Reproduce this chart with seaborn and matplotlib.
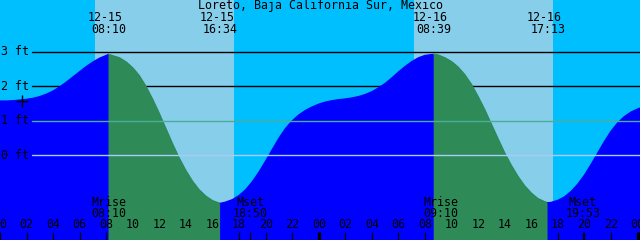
import matplotlib
matplotlib.use("Agg")
import matplotlib.pyplot as plt
from matplotlib.transforms import blended_transform_factory
import numpy as np
import pandas as pd
import seaborn as sns

# ---------------- data ----------------
title = "Loreto, Baja California Sur, Mexico"

hours = [0, 0.5, 1, 1.5, 2, 2.5, 3, 3.5, 4, 4.5, 5, 5.5, 6, 6.5, 7, 7.5, 8, 8.17,
         9, 9.5, 10, 10.5, 11, 11.5, 12, 12.5, 13, 13.5, 14, 14.5, 15, 15.5, 16, 16.57,
         17, 17.5, 18, 18.5, 19, 19.5, 20, 20.5, 21, 21.5, 22, 22.5, 23, 23.5,
         24, 24.5, 25, 25.5, 26, 26.5, 27, 27.5, 28, 28.5, 29, 29.5, 30, 30.5, 31, 31.5, 32, 32.65,
         33, 33.5, 34, 34.5, 35, 35.5, 36, 36.5, 37, 37.5, 38, 38.5, 39, 39.5, 40, 40.5, 41, 41.22,
         41.5, 42, 42.5, 43, 43.5, 44, 44.5, 45, 45.5, 46, 46.5, 47, 47.5, 48, 48.2]
heights = [1.57, 1.57, 1.58, 1.60, 1.62, 1.65, 1.70, 1.77, 1.86, 1.98, 2.12, 2.27, 2.42, 2.57, 2.70, 2.81, 2.89, 2.92,
           2.82, 2.70, 2.53, 2.30, 1.99, 1.62, 1.21, 0.77, 0.33, -0.08, -0.44, -0.75, -1.00, -1.18, -1.31, -1.39,
           -1.35, -1.28, -1.16, -0.99, -0.76, -0.48, -0.16, 0.17, 0.50, 0.78, 1.00, 1.17, 1.30, 1.40,
           1.48, 1.54, 1.58, 1.61, 1.63, 1.66, 1.70, 1.76, 1.84, 1.95, 2.08, 2.24, 2.41, 2.57, 2.71, 2.82, 2.89, 2.92,
           2.90, 2.82, 2.71, 2.55, 2.33, 2.05, 1.70, 1.32, 0.90, 0.48, 0.07, -0.29, -0.61, -0.88, -1.09, -1.25, -1.34, -1.37,
           -1.36, -1.30, -1.20, -1.04, -0.83, -0.57, -0.26, 0.07, 0.40, 0.70, 0.94, 1.12, 1.25, 1.34, 1.37]

extreme_hours = [8.17, 16.57, 32.65, 41.22]
extreme_dates = ["12-15", "12-15", "12-16", "12-16"]
extreme_times = ["08:10", "16:34", "08:39", "17:13"]

ebb_start = [8.17, 32.65]
ebb_end = [16.57, 41.22]

sunrise_hours = [7.18, 31.16]
sunset_hours = [17.63, 41.66]

moon_hours = [8.17, 18.83, 33.17, 43.88]
moon_names = ["Mrise", "Mset", "Mrise", "Mset"]
moon_times = ["08:10", "18:50", "09:10", "19:53"]

hour_ticks = [0, 2, 4, 6, 8, 10, 12, 14, 16, 18, 20, 22, 24,
              26, 28, 30, 32, 34, 36, 38, 40, 42, 44, 46, 48]
hour_labels = ["00", "02", "04", "06", "08", "10", "12", "14", "16", "18", "20", "22", "00",
               "02", "04", "06", "08", "10", "12", "14", "16", "18", "20", "22", "00"]
midnight_hours = [24, 48]

ft_levels = [3, 2, 1, 0]
ft_labels = ["3 ft", "2 ft", "1 ft", "0 ft"]

now_hour = 1.63
now_ft = 1.58

# ---------------- colours ----------------
DAY = "#87CEEB"
NIGHT = "#00BFFF"
FLOOD = "#0000FF"
EBB = "#2E8B57"
MSL_LINE = "#4CAE96"
DATUM_LINE = "#A8CCF4"

sns.set_theme(style="white")
plt.rcParams["font.family"] = ["DejaVu Sans Mono", "DejaVu Sans"]

W, H = 640, 240
fig = plt.figure(figsize=(6.4, 2.4), dpi=100)
ax = fig.add_axes([0, 0, 1, 1])
PXH = 13.333          # pixels per hour
X0 = 2.4 / PXH        # hour at left edge
ax.set_xlim(X0, X0 + W / PXH)
ax.set_ylim(-2.45, 4.49)
ax.set_facecolor(NIGHT)
ax.set_axisbelow(False)
for s in ax.spines.values():
    s.set_visible(False)

# daylight
for sr, ss in zip(sunrise_hours, sunset_hours):
    ax.axvspan(sr, ss, color=DAY, lw=0, zorder=0)

# black level lines (under the water)
for lv in ft_levels[:2]:
    ax.axhline(lv, xmin=32 / W, xmax=1, color="black", lw=1.0, zorder=1)

# water
hrs = np.array(hours)
hts = np.array(heights)
ax.fill_between(hrs, hts, -5, color=FLOOD, lw=0, zorder=2)
for a, b in zip(ebb_start, ebb_end):
    m = (hrs >= a - 1e-9) & (hrs <= b + 1e-9)
    ax.fill_between(hrs[m], hts[m], -5, color=EBB, lw=0, zorder=3)

# outline of the tide curve, coloured by phase
bounds = sorted(ebb_start + ebb_end)
edges = [hrs[0]] + bounds + [hrs[-1]]
palette = {}
seg_rows = []
for i in range(len(edges) - 1):
    a, b = edges[i], edges[i + 1]
    m = (hrs >= a - 1e-9) & (hrs <= b + 1e-9)
    name = f"s{i}"
    is_ebb = any(abs(a - e) < 1e-6 for e in ebb_start)
    palette[name] = EBB if is_ebb else FLOOD
    for h_, v_ in zip(hrs[m], hts[m]):
        seg_rows.append({"hour": h_, "ft": v_, "seg": name})
df = pd.DataFrame(seg_rows)
sns.lineplot(data=df, x="hour", y="ft", hue="seg", palette=palette,
             legend=False, estimator=None, sort=False, lw=0.8, ax=ax, zorder=3)

# mean sea level & datum lines
ax.axhline(1, xmin=32 / W, xmax=1, color=MSL_LINE, lw=1.0, zorder=4)
ax.axhline(0, xmin=32 / W, xmax=1, color=DATUM_LINE, lw=1.0, zorder=4)

# current-time mark
ax.plot([now_hour], [now_ft], marker="+", ms=9, mew=1.0, color="black", zorder=6)

fs = 8.4
ax_tr = ax.transAxes
xd_ya = blended_transform_factory(ax.transData, ax.transAxes)
xa_yd = blended_transform_factory(ax.transAxes, ax.transData)

ax.text(0.5, 1 - 5.5 / H, title, transform=ax_tr, ha="center", va="center",
        fontsize=fs, color="black", zorder=7)

for lv, lb in zip(ft_levels, ft_labels):
    ax.text(1 / W, lv, lb, transform=xa_yd, ha="left", va="center",
            fontsize=fs, color="black", zorder=7)

for h_, d_, t_ in zip(extreme_hours, extreme_dates, extreme_times):
    ax.text(h_ - 3.4 / PXH, 1 - 17.5 / H, d_, transform=xd_ya, ha="center",
            va="center", fontsize=fs, color="black", zorder=7)
    ax.text(h_ + 0.3 / PXH, 1 - 29.5 / H, t_, transform=xd_ya, ha="center",
            va="center", fontsize=fs, color="black", zorder=7)

for h_, n_, t_ in zip(moon_hours, moon_names, moon_times):
    ax.text(h_, 1 - 202 / H, n_, transform=xd_ya, ha="center", va="center",
            fontsize=fs, color="black", zorder=7)
    ax.text(h_, 1 - 213.5 / H, t_, transform=xd_ya, ha="center", va="center",
            fontsize=fs, color="black", zorder=7)

for h_, lb in zip(hour_ticks, hour_labels):
    ax.text(h_, 1 - 225 / H, lb, transform=xd_ya, ha="center", va="center",
            fontsize=fs, color="black", zorder=7, clip_on=False)

# bottom tick marks
major = [h for h in hour_ticks if h not in midnight_hours] + moon_hours
ax.set_xticks(major)
ax.set_xticks(midnight_hours, minor=True)
ax.set_yticks([])
ax.tick_params(axis="x", which="major", direction="in", length=5.8, width=0.9,
               color="black", labelbottom=False, bottom=True)
ax.tick_params(axis="x", which="minor", direction="in", length=5.8, width=2.4,
               color="black", labelbottom=False, bottom=True)
ax.set_xlabel("")
ax.set_ylabel("")
ax.grid(False)

fig.savefig("out.png", dpi=100)
